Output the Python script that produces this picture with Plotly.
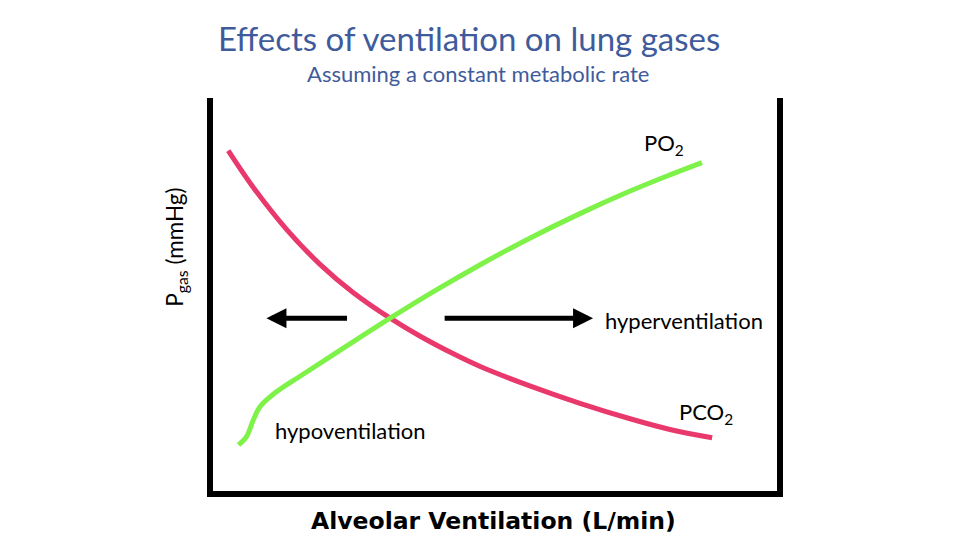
import plotly.graph_objects as go

# Alveolar ventilation (arbitrary units 0-10) and partial pressures (arbitrary 0-100)
pco2_x = [0.32, 0.76, 1.35, 1.93, 2.51, 3.16, 3.68, 4.27, 4.74, 5.61, 6.49, 7.37, 8.07, 8.81]
pco2_y = [86.7, 77.4, 66.7, 58.0, 50.9, 44.4, 39.9, 35.4, 32.2, 27.3, 22.9, 19.0, 16.3, 14.2]

po2_x = [0.50, 0.64, 0.76, 0.88, 1.11, 1.64, 2.40, 3.16, 3.92, 4.74, 5.61, 6.49, 7.37, 8.07, 8.63]
po2_y = [12.4, 14.5, 18.7, 22.1, 25.2, 30.3, 37.4, 44.4, 51.1, 57.9, 64.6, 70.8, 76.5, 80.6, 83.7]

title = "Effects of ventilation on lung gases"
subtitle = "Assuming a constant metabolic rate"
x_label = "Alveolar Ventilation (L/min)"
y_label = "P<sub>gas</sub> (mmHg)"

PINK = "#E9386C"
GREEN = "#7FF24A"
BLUE = "#3F5B9C"

fig = go.Figure()
fig.add_trace(go.Scatter(x=pco2_x, y=pco2_y, mode="lines",
                         line=dict(color=PINK, width=5, shape="spline", smoothing=1.0),
                         hoverinfo="skip", showlegend=False))
fig.add_trace(go.Scatter(x=po2_x, y=po2_y, mode="lines",
                         line=dict(color=GREEN, width=5, shape="spline", smoothing=1.0),
                         hoverinfo="skip", showlegend=False))

fig.update_layout(
    width=960, height=540,
    margin=dict(l=210, r=180, t=98, b=46),
    paper_bgcolor="white", plot_bgcolor="white",
    xaxis=dict(range=[0, 10], visible=False, fixedrange=True),
    yaxis=dict(range=[0, 100], visible=False, fixedrange=True),
    font=dict(family="Lato", color="black"),
    showlegend=False,
)

# frame (left, bottom, right)
fig.add_shape(type="path", xref="paper", yref="paper",
              path="M0,1 L0,0 L1,0 L1,1",
              line=dict(color="black", width=6))

ann = []
ann.append(dict(text=title, xref="paper", yref="paper", x=0.454, y=1.152,
                showarrow=False, font=dict(family="Lato", size=33, color=BLUE),
                xanchor="center", yanchor="middle"))
ann.append(dict(text=subtitle, xref="paper", yref="paper", x=0.47, y=1.063,
                showarrow=False, font=dict(family="Lato", size=22, color=BLUE),
                xanchor="center", yanchor="middle"))
ann.append(dict(text="<b>" + x_label + "</b>", xref="paper", yref="paper", x=0.498, y=-0.068,
                showarrow=False, font=dict(family="DejaVu Sans", size=23.5, color="black"),
                xanchor="center", yanchor="middle"))
ann.append(dict(text=y_label, xref="paper", yref="paper", x=-0.0596, y=0.622,
                showarrow=False, textangle=-90, font=dict(family="Lato", size=22.5),
                xanchor="center", yanchor="middle"))
ann.append(dict(text="PO<sub>2</sub>", x=7.96, y=88.4, showarrow=False,
                font=dict(family="Lato", size=22), xanchor="center", yanchor="middle"))
ann.append(dict(text="PCO<sub>2</sub>", x=8.70, y=20.5, showarrow=False,
                font=dict(family="Lato", size=22), xanchor="center", yanchor="middle"))
ann.append(dict(text="hypoventilation", x=1.10, y=16.0, showarrow=False,
                font=dict(family="Lato", size=22), xanchor="left", yanchor="middle"))
ann.append(dict(text="hyperventilation", x=6.89, y=43.7, showarrow=False,
                font=dict(family="Lato", size=22), xanchor="left", yanchor="middle"))
# arrows
ann.append(dict(text="", x=0.99, y=44.4, ax=2.43, ay=44.4, axref="x", ayref="y",
                showarrow=True, arrowhead=2, arrowwidth=5, arrowsize=0.8,
                arrowcolor="black", standoff=0, startstandoff=0))
ann.append(dict(text="", x=6.72, y=44.4, ax=4.09, ay=44.4, axref="x", ayref="y",
                showarrow=True, arrowhead=2, arrowwidth=5, arrowsize=0.8,
                arrowcolor="black", standoff=0, startstandoff=0))
fig.update_layout(annotations=ann)

fig.write_html("out.html")
